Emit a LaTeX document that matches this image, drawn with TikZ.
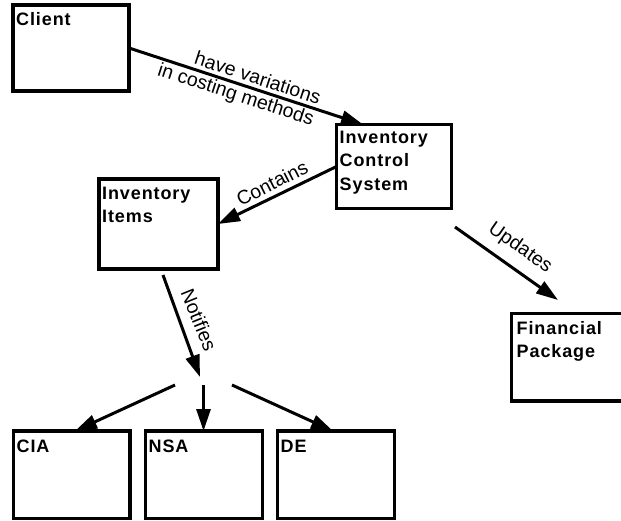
\documentclass[tikz,border=0pt]{standalone}
\usepackage{fontspec}
\setmainfont{Liberation Sans}
\newfontfamily\boxfont[LetterSpace=5]{Liberation Sans}
\usetikzlibrary{arrows.meta}
\begin{document}
\begin{tikzpicture}[x=1pt,y=-1pt,
  box/.style={draw, line width=3.5pt, rectangle, outer sep=0pt, inner sep=0pt,
    anchor=north west},
  boxlabel/.style={anchor=north west, inner xsep=3pt, inner ysep=7.5pt,
    align=left, font=\boxfont\bfseries\fontsize{18}{23.3}\selectfont},
  conn/.style={line width=3pt, -{Triangle[length=22pt,width=14pt]}},
  connlabel/.style={font=\fontsize{19.5}{22}\selectfont, inner sep=0pt}
]
\clip (0,0) rectangle (621,520);
\useasboundingbox (0,0) rectangle (621,520);

% boxes
\node[box, minimum width=116pt, minimum height=86pt,
  label={[boxlabel]north west:Client}] (client) at (13,5) {};
\node[box, minimum width=115pt, minimum height=84pt,
  label={[boxlabel, inner ysep=6.5pt]north west:Inventory\\Control\\System}] (ics) at (336.5,124.5) {};
\node[box, minimum width=119pt, minimum height=90pt,
  label={[boxlabel]north west:Inventory\\Items}] (items) at (99,179) {};
\node[box, minimum width=130pt, minimum height=87.5pt,
  label={[boxlabel, inner xsep=5pt]north west:Financial\\Package}] (fin) at (511.5,313.5) {};
\node[box, minimum width=116.5pt, minimum height=87.5pt,
  label={[boxlabel, inner ysep=9pt]north west:CIA}] (cia) at (13.5,431) {};
\node[box, minimum width=117pt, minimum height=87.5pt,
  label={[boxlabel, inner ysep=9pt]north west:NSA}] (nsa) at (145.5,431) {};
\node[box, minimum width=117pt, minimum height=87.5pt,
  label={[boxlabel, inner ysep=9pt]north west:DE}] (de) at (277.5,431) {};

% free ends of connectors
\coordinate (updA) at (455,227);
\coordinate (updB) at (558,300);
\coordinate (notA) at (163,275);
\coordinate (notB) at (200,377);
\coordinate (splitL) at (175,385);
\coordinate (splitM) at (203.5,385);
\coordinate (splitR) at (232,385);

% connectors
\draw[conn] (client.east) -- ([xshift=26.5pt]ics.north west);
\draw[conn] (ics.west) -- (items.east);
\draw[conn] (updA) -- (updB);
\draw[conn] (notA) -- (notB);
\draw[conn] (splitL) -- ([xshift=61.5pt]cia.north west);
\draw[conn] (splitM) -- (splitM |- nsa.north);
\draw[conn] (splitR) -- ([xshift=55.5pt]de.north west);

% connector labels
\node[connlabel, align=right, rotate=-18] (lblcost) at (239,85) {have variations\\in costing methods};
\node[connlabel, rotate=27] (lblcont) at (272,183) {Contains};
\node[connlabel, rotate=-35] (lblupd) at (520,248) {Updates};
\node[connlabel, rotate=-68] (lblnot) at (199,320) {Notifies};
\end{tikzpicture}
\end{document}
